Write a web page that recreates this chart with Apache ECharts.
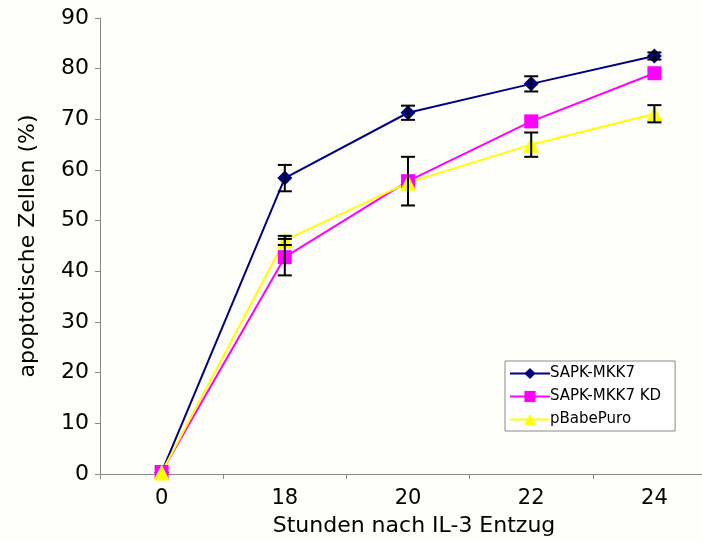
<!DOCTYPE html>
<html>
<head>
<meta charset="utf-8">
<script src="https://cdn.jsdelivr.net/npm/echarts@6/dist/echarts.min.js"></script>
<style>
  html, body { margin: 0; padding: 0; background: #fefefa; overflow: hidden; }
  #chart { width: 730px; height: 542px; }
</style>
</head>
<body>
<div id="chart"></div>
<script>
// Hours after IL-3 withdrawal
const hours = ['0', '18', '20', '22', '24'];

// Apoptotic cells (%) per construct, with standard deviations
const mkk7 = [0.3, 58.4, 71.3, 77.0, 82.5];
const mkk7Err = [0, 2.6, 1.4, 1.5, 0.7];

const mkk7kd = [0.4, 42.8, 57.8, 69.6, 79.1];
const mkk7kdErr = [0, 3.6, 4.8, 0, 0];

const pbabe = [0.3, 46.1, 57.5, 65.0, 71.1];
const pbabeErr = [0, 0.9, 0, 2.4, 1.7];

const seriesNames = ['SAPK-MKK7', 'SAPK-MKK7 KD', 'pBabePuro'];
const yTicks = [0, 10, 20, 30, 40, 50, 60, 70, 80, 90];

const FONT = 'DejaVu Sans';

function errorData(vals, errs) {
  return vals
    .map((v, i) => [i, v - errs[i], v + errs[i], errs[i]])
    .filter(d => d[3] > 0);
}

function errorSeries(vals, errs) {
  return {
    type: 'custom',
    silent: true,
    z: 5,
    data: errorData(vals, errs),
    renderItem: function (params, api) {
      const lo = api.coord([api.value(0), api.value(1)]);
      const hi = api.coord([api.value(0), api.value(2)]);
      const half = 7;
      const style = { stroke: '#000', lineWidth: 2 };
      return {
        type: 'group',
        children: [
          { type: 'line', shape: { x1: lo[0], y1: lo[1], x2: hi[0], y2: hi[1] }, style: style },
          { type: 'line', shape: { x1: lo[0] - half, y1: lo[1], x2: lo[0] + half, y2: lo[1] }, style: style },
          { type: 'line', shape: { x1: hi[0] - half, y1: hi[1], x2: hi[0] + half, y2: hi[1] }, style: style }
        ]
      };
    }
  };
}

function lineSeries(name, vals, color, symbol, size) {
  return {
    name: name,
    type: 'line',
    data: vals,
    symbol: symbol,
    symbolSize: size,
    clip: false,
    z: 3,
    lineStyle: { color: color, width: 2 },
    itemStyle: { color: color },
    emphasis: { disabled: true }
  };
}

const chart = echarts.init(document.getElementById('chart'), null, { renderer: 'canvas' });

chart.setOption({
  backgroundColor: '#fefefa',
  animation: false,
  // plot area runs slightly past the visible right edge of the page
  grid: { left: 100, width: 616, top: 18, height: 456 },
  legend: {
    data: seriesNames,
    orient: 'vertical',
    left: 505,
    top: 361,
    itemWidth: 40,
    itemHeight: 14,
    itemGap: 8,
    padding: [5, 14, 4, 4],
    backgroundColor: '#ffffff',
    borderColor: '#8a8a8a',
    borderWidth: 1,
    textStyle: { fontFamily: FONT, fontSize: 15, color: '#000', padding: [0, 0, 0, -5] }
  },
  xAxis: {
    type: 'category',
    data: hours,
    boundaryGap: true,
    name: 'Stunden nach IL-3 Entzug',
    nameLocation: 'middle',
    nameGap: 41,
    nameTextStyle: { fontFamily: FONT, fontSize: 22, color: '#000', padding: [0, 0, 0, 12] },
    axisLine: { lineStyle: { color: '#888', width: 1 } },
    axisTick: { show: true, length: 5, lineStyle: { color: '#888' } },
    axisLabel: { fontFamily: FONT, fontSize: 21, color: '#000', margin: 14 },
    splitLine: { show: false }
  },
  yAxis: {
    type: 'value',
    min: yTicks[0],
    max: yTicks[yTicks.length - 1],
    interval: 10,
    name: 'apoptotische Zellen (%)',
    nameLocation: 'middle',
    nameGap: 61,
    nameTextStyle: { fontFamily: FONT, fontSize: 22, color: '#000' },
    axisLine: { show: true, lineStyle: { color: '#888', width: 1 } },
    axisTick: { show: true, length: 5, lineStyle: { color: '#888' } },
    axisLabel: { fontFamily: FONT, fontSize: 22, color: '#000', margin: 11 },
    splitLine: { show: false }
  },
  series: [
    lineSeries(seriesNames[0], mkk7, '#000080', 'diamond', 15),
    lineSeries(seriesNames[1], mkk7kd, '#ff00ff', 'rect', 14),
    lineSeries(seriesNames[2], pbabe, '#ffff00', 'triangle', 16),
    errorSeries(mkk7, mkk7Err),
    errorSeries(mkk7kd, mkk7kdErr),
    errorSeries(pbabe, pbabeErr)
  ]
});
</script>
</body>
</html>
